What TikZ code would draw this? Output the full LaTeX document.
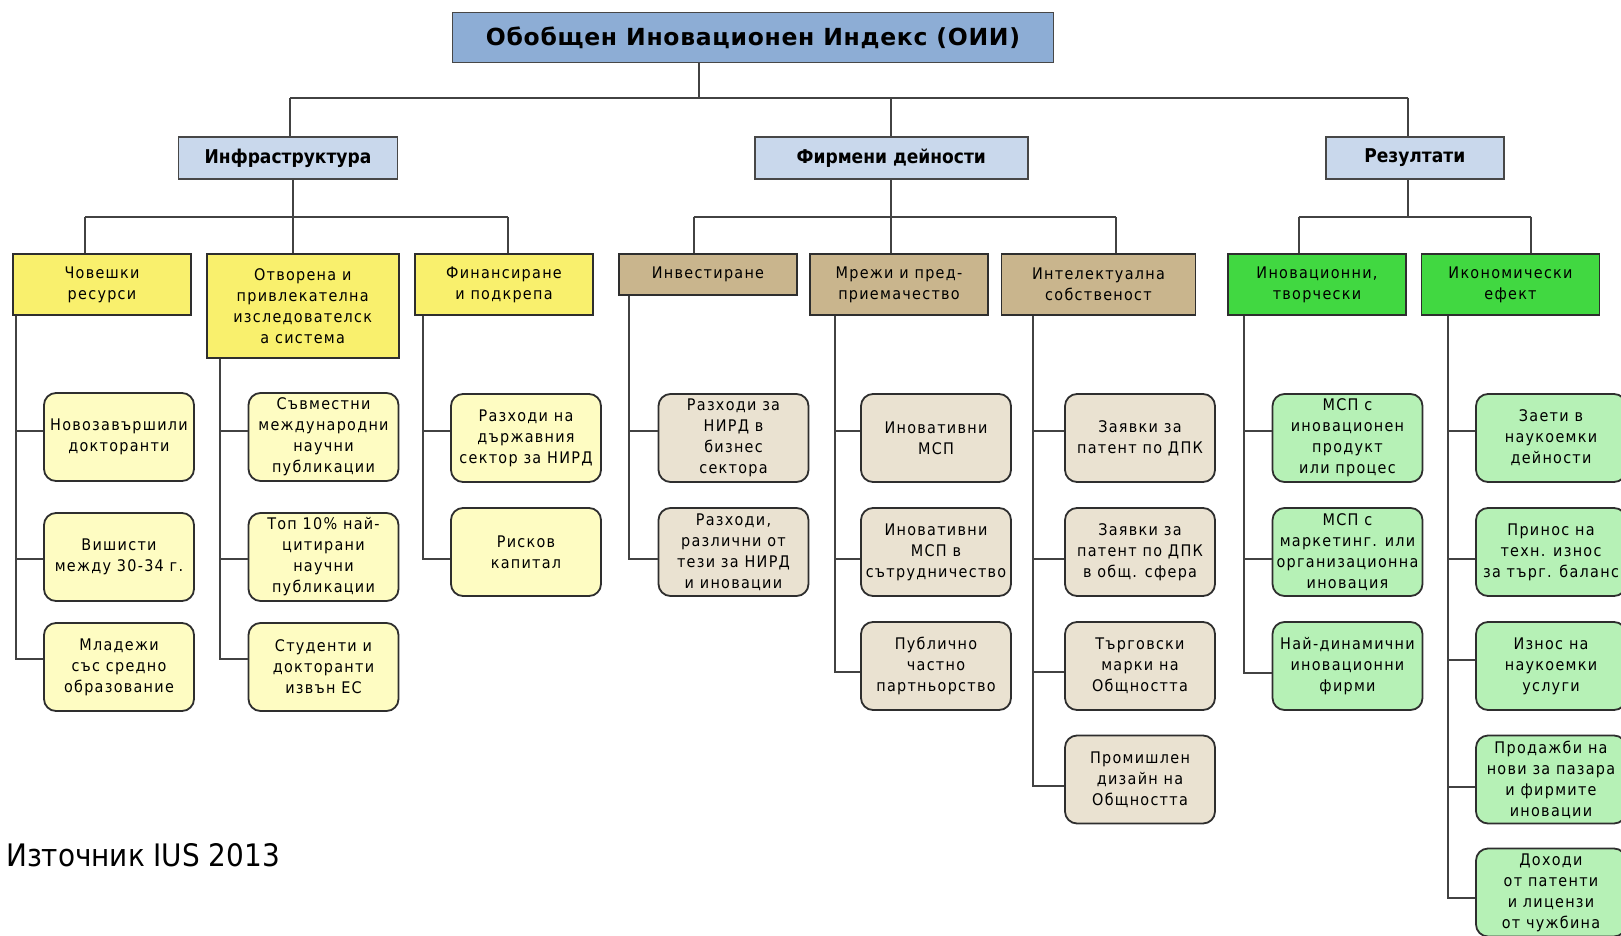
\documentclass[tikz,border=0pt]{standalone}
\usepackage{fontspec}
\newfontfamily\bxfont{DejaVu Sans Condensed}[LetterSpace=8]
\newfontfamily\bxbold{DejaVu Sans Condensed Bold}
\newfontfamily\ttlfont{DejaVu Sans Bold}[LetterSpace=3]
\newfontfamily\srcfont{DejaVu Sans Condensed}
\definecolor{cTitle}{HTML}{8DADD5}
\definecolor{cTwo}{HTML}{C9D8EC}
\definecolor{cY}{HTML}{F9F06D}
\definecolor{cYl}{HTML}{FEFCC2}
\definecolor{cT}{HTML}{C9B58D}
\definecolor{cTl}{HTML}{EAE2D1}
\definecolor{cG}{HTML}{41D841}
\definecolor{cGl}{HTML}{B6F1B6}
\begin{document}
\begin{tikzpicture}[x=1pt,y=-1pt,
  ttl/.style={draw=black!72, line width=1.8pt, fill=cTitle, minimum width=601pt, minimum height=50pt, inner sep=0pt, font=\ttlfont\fontsize{23.5}{28}\selectfont},
  lvtwo/.style={draw=black!72, line width=1.8pt, fill=cTwo, minimum height=42pt, inner sep=0pt, font=\bxbold\fontsize{19}{23}\selectfont},
  lvthree/.style={draw=black!82, line width=1.8pt, minimum width=178pt, minimum height=61pt, inner sep=1pt, align=center, font=\bxfont\fontsize{16}{21}\selectfont},
  leaf/.style={draw=black!82, line width=1.8pt, rounded corners=12pt, minimum width=150pt, minimum height=88pt, inner sep=1pt, align=center, font=\bxfont\fontsize{16}{21}\selectfont},
  con/.style={draw=black!74, line width=2pt},
]
\useasboundingbox (0,0) rectangle (1621,936);
\clip (0,0) rectangle (1621,936);
\fill[white] (0,0) rectangle (1621,936);

% bus coordinates
\coordinate (mL) at (290,97.7);
\coordinate (mT) at (699,97.7);
\coordinate (mC) at (890.6,97.7);
\coordinate (mR) at (1407.7,97.7);
\coordinate (iL) at (85,217.3);
\coordinate (iC) at (292.6,217.3);
\coordinate (iR) at (508,217.3);
\coordinate (fL) at (693.7,217.3);
\coordinate (fC) at (890.6,217.3);
\coordinate (fR) at (1116,217.3);
\coordinate (rL) at (1298.7,216.7);
\coordinate (rC) at (1407.7,216.7);
\coordinate (rR) at (1530.7,216.7);

% title and level two
\node[ttl] (ttl) at (753,37.5) {Обобщен Иновационен Индекс (ОИИ)\hspace{46pt}};
\node[lvtwo, minimum width=219pt] (infra) at (288,158) {Инфраструктура};
\node[lvtwo, minimum width=273pt] (firm) at (891.3,158) {Фирмени дейности};
\node[lvtwo, minimum width=178pt] (res) at (1414.8,158) {Резултати};

% level three
\node[lvthree, fill=cY] (chov) at (102,284.7) {Човешки\\ресурси};
\node[lvthree, fill=cY, minimum width=192pt, minimum height=104pt] (otv) at (302.7,306) {Отворена и\\привлекателна\\изследователск\\а система};
\node[lvthree, fill=cY] (fin) at (504,284.7) {Финансиране\\и подкрепа};
\node[lvthree, fill=cT, minimum height=41pt] (inv) at (708,274.4) {Инвестиране};
\node[lvthree, fill=cT] (mr) at (899,284.7) {Мрежи и пред-\\приемачество};
\node[lvthree, fill=cT, minimum width=194pt] (int) at (1098.5,284.7) {Интелектуална\\собственост};
\node[lvthree, fill=cG] (inov) at (1317,284.7) {Иновационни,\\творчески};
\node[lvthree, fill=cG] (ikon) at (1510.5,284.7) {Икономически\\ефект};

% leaves
\node[leaf, fill=cYl] (a1) at (119,437) {Новозавършили\\докторанти};
\node[leaf, fill=cYl] (a2) at (119,557) {Вишисти\\между 30-34 г.};
\node[leaf, fill=cYl] (a3) at (119,667) {Младежи\\със средно\\образование};
\node[leaf, fill=cYl] (b1) at (323.5,437) {Съвместни\\международни\\научни\\публикации};
\node[leaf, fill=cYl] (b2) at (323.5,557) {Топ 10\% най-\\цитирани\\научни\\публикации};
\node[leaf, fill=cYl] (b3) at (323.5,667) {Студенти и\\докторанти\\извън ЕС};
\node[leaf, fill=cYl] (c1) at (526,438) {Разходи на\\държавния\\сектор за НИРД};
\node[leaf, fill=cYl] (c2) at (526,552) {Рисков\\капитал};
\node[leaf, fill=cTl] (d1) at (733.5,438) {Разходи за\\НИРД в\\бизнес\\сектора};
\node[leaf, fill=cTl] (d2) at (733.5,552) {Разходи,\\различни от\\тези за НИРД\\и иновации};
\node[leaf, fill=cTl] (e1) at (936,438) {Иновативни\\МСП};
\node[leaf, fill=cTl] (e2) at (936,552) {Иновативни\\МСП в\\сътрудничество};
\node[leaf, fill=cTl] (e3) at (936,666) {Публично\\частно\\партньорство};
\node[leaf, fill=cTl] (g1) at (1140,438) {Заявки за\\патент по ДПК};
\node[leaf, fill=cTl] (g2) at (1140,552) {Заявки за\\патент по ДПК\\в общ. сфера};
\node[leaf, fill=cTl] (g3) at (1140,666) {Търговски\\марки на\\Общността};
\node[leaf, fill=cTl] (g4) at (1140,779.5) {Промишлен\\дизайн на\\Общността};
\node[leaf, fill=cGl] (h1) at (1347.5,438) {МСП с\\иновационен\\продукт\\или процес};
\node[leaf, fill=cGl] (h2) at (1347.5,552) {МСП с\\маркетинг. или\\организационна\\иновация};
\node[leaf, fill=cGl] (h3) at (1347.5,666) {Най-динамични\\иновационни\\фирми};
\node[leaf, fill=cGl] (k1) at (1551,438) {Заети в\\наукоемки\\дейности};
\node[leaf, fill=cGl] (k2) at (1551,552) {Принос на\\техн. износ\\за търг. баланс};
\node[leaf, fill=cGl] (k3) at (1551,666) {Износ на\\наукоемки\\услуги};
\node[leaf, fill=cGl] (k4) at (1551,779.5) {Продажби на\\нови за пазара\\и фирмите\\иновации};
\node[leaf, fill=cGl] (k5) at (1551,892.5) {Доходи\\от патенти\\и лицензи\\от чужбина};

% source
\node[anchor=base west, inner sep=0pt, font=\srcfont\fontsize{31}{36}\selectfont] (src) at (6,866.7) {Източник IUS 2013};

% connectors between levels
\draw[con] (mT |- ttl.south) -- (mT);
\draw[con] (mL) -- (mR);
\draw[con] (mL) -- (mL |- infra.north);
\draw[con] (mC) -- (mC |- firm.north);
\draw[con] (mR) -- (mR |- res.north);

\draw[con] (iL) -- (iR);
\draw[con] (iC |- infra.south) -- (iC |- otv.north);
\draw[con] (iL) -- (iL |- chov.north);
\draw[con] (iR) -- (iR |- fin.north);

\draw[con] (fL) -- (fR);
\draw[con] (fC |- firm.south) -- (fC |- mr.north);
\draw[con] (fL) -- (fL |- inv.north);
\draw[con] (fR) -- (fR |- int.north);

\draw[con] (rL) -- (rR);
\draw[con] (rC |- res.south) -- (rC);
\draw[con] (rL) -- (rL |- inov.north);
\draw[con] (rR) -- (rR |- ikon.north);

% spines and stubs
\draw[con] ([xshift=4pt]chov.south west) |- ([yshift=6pt]a1.west);
\draw[con] ([xshift=4pt]chov.south west) |- ([yshift=-2pt]a2.west);
\draw[con] ([xshift=4pt]chov.south west) |- ([yshift=8pt]a3.west);
\draw[con] ([xshift=14pt]otv.south west) |- ([yshift=6pt]b1.west);
\draw[con] ([xshift=14pt]otv.south west) |- ([yshift=-2pt]b2.west);
\draw[con] ([xshift=14pt]otv.south west) |- ([yshift=8pt]b3.west);
\draw[con] ([xshift=9pt]fin.south west) |- ([yshift=7pt]c1.west);
\draw[con] ([xshift=9pt]fin.south west) |- ([yshift=-7pt]c2.west);
\draw[con] ([xshift=11pt]inv.south west) |- ([yshift=7pt]d1.west);
\draw[con] ([xshift=11pt]inv.south west) |- ([yshift=-7pt]d2.west);
\draw[con] ([xshift=26pt]mr.south west) |- ([yshift=7pt]e1.west);
\draw[con] ([xshift=26pt]mr.south west) |- ([yshift=-7pt]e2.west);
\draw[con] ([xshift=26pt]mr.south west) |- ([yshift=-6pt]e3.west);
\draw[con] ([xshift=32.5pt]int.south west) |- ([yshift=7pt]g1.west);
\draw[con] ([xshift=32.5pt]int.south west) |- ([yshift=-7pt]g2.west);
\draw[con] ([xshift=32.5pt]int.south west) |- ([yshift=-6pt]g3.west);
\draw[con] ([xshift=32.5pt]int.south west) |- ([yshift=-6.5pt]g4.west);
\draw[con] ([xshift=17pt]inov.south west) |- ([yshift=7pt]h1.west);
\draw[con] ([xshift=17pt]inov.south west) |- ([yshift=-7pt]h2.west);
\draw[con] ([xshift=17pt]inov.south west) |- ([yshift=-7pt]h3.west);
\draw[con] ([xshift=27.5pt]ikon.south west) |- ([yshift=7pt]k1.west);
\draw[con] ([xshift=27.5pt]ikon.south west) |- ([yshift=-7pt]k2.west);
\draw[con] ([xshift=27.5pt]ikon.south west) |- ([yshift=6pt]k3.west);
\draw[con] ([xshift=27.5pt]ikon.south west) |- ([yshift=-7pt]k4.west);
\draw[con] ([xshift=27.5pt]ikon.south west) |- ([yshift=-5.5pt]k5.west);
\end{tikzpicture}
\end{document}
